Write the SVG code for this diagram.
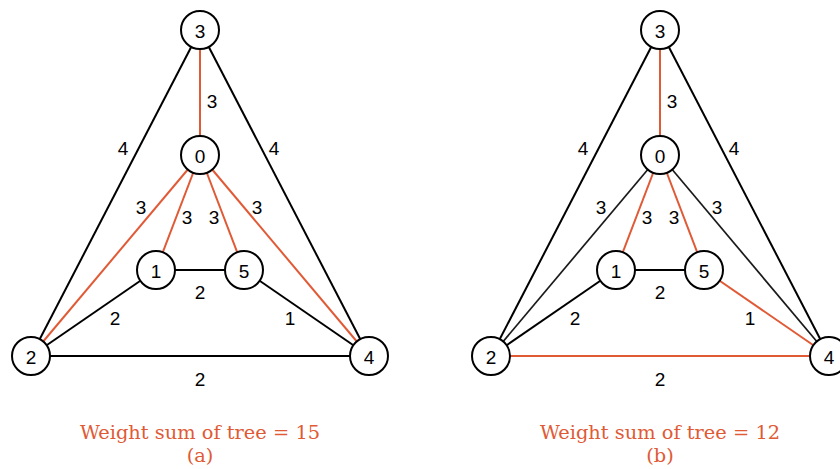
<svg xmlns="http://www.w3.org/2000/svg" width="840" height="469" viewBox="0 0 840 469">
<style>
.e{stroke:#000;stroke-width:2;fill:none}
.t{stroke:#E05A36;stroke-width:2;fill:none}
.g{stroke:#1a1a1a;stroke-width:1.7;fill:none}
.n circle{fill:#fff;stroke:#000;stroke-width:2}
text{font-family:"Liberation Sans",Arial,sans-serif;font-size:19px;fill:#000;text-anchor:middle;dominant-baseline:central}
.cap{font-family:"DejaVu Serif","Liberation Serif",serif;font-size:19.4px;fill:#E05A36;dominant-baseline:alphabetic}
</style>
<rect width="840" height="469" fill="#fff"/>
<g id="connectors">
<line class="e" x1="200" y1="30" x2="31" y2="356"/>
<line class="e" x1="200" y1="30" x2="369" y2="356"/>
<line class="t" x1="200" y1="30" x2="200" y2="155"/>
<line class="t" x1="200" y1="155" x2="31" y2="356"/>
<line class="t" x1="200" y1="155" x2="156" y2="270"/>
<line class="t" x1="200" y1="155" x2="244" y2="270"/>
<line class="t" x1="200" y1="155" x2="369" y2="356"/>
<line class="e" x1="156" y1="270" x2="244" y2="270"/>
<line class="e" x1="156" y1="270" x2="31" y2="356"/>
<line class="e" x1="244" y1="270" x2="369" y2="356"/>
<line class="e" x1="31" y1="356" x2="369" y2="356"/>
<line class="e" x1="660" y1="30" x2="491" y2="356"/>
<line class="e" x1="660" y1="30" x2="829" y2="356"/>
<line class="t" x1="660" y1="30" x2="660" y2="155"/>
<line class="g" x1="660" y1="155" x2="491" y2="356"/>
<line class="t" x1="660" y1="155" x2="616" y2="270"/>
<line class="t" x1="660" y1="155" x2="704" y2="270"/>
<line class="g" x1="660" y1="155" x2="829" y2="356"/>
<line class="e" x1="616" y1="270" x2="704" y2="270"/>
<line class="e" x1="616" y1="270" x2="491" y2="356"/>
<line class="t" x1="704" y1="270" x2="829" y2="356"/>
<line class="t" x1="491" y1="356" x2="829" y2="356"/>
</g>
<g id="edge-labels">
<text x="212" y="101">3</text>
<text x="123" y="148">4</text>
<text x="274" y="148">4</text>
<text x="141" y="207">3</text>
<text x="187" y="217">3</text>
<text x="214" y="217">3</text>
<text x="257" y="207">3</text>
<text x="200" y="292">2</text>
<text x="115" y="318">2</text>
<text x="290" y="318">1</text>
<text x="200" y="379">2</text>
<text x="672" y="101">3</text>
<text x="583" y="148">4</text>
<text x="734" y="148">4</text>
<text x="601" y="207">3</text>
<text x="647" y="217">3</text>
<text x="674" y="217">3</text>
<text x="717" y="207">3</text>
<text x="660" y="292">2</text>
<text x="575" y="318">2</text>
<text x="750" y="318">1</text>
<text x="660" y="379">2</text>
</g>
<g id="a-node3" class="n"><circle cx="200" cy="30" r="19"/><text x="200" y="31">3</text></g>
<g id="a-node0" class="n"><circle cx="200" cy="155" r="19"/><text x="200" y="156">0</text></g>
<g id="a-node1" class="n"><circle cx="156" cy="270" r="19"/><text x="156" y="271">1</text></g>
<g id="a-node5" class="n"><circle cx="244" cy="270" r="19"/><text x="244" y="271">5</text></g>
<g id="a-node2" class="n"><circle cx="31" cy="356" r="19"/><text x="31" y="357">2</text></g>
<g id="a-node4" class="n"><circle cx="369" cy="356" r="19"/><text x="369" y="357">4</text></g>
<g id="b-node3" class="n"><circle cx="660" cy="30" r="19"/><text x="660" y="31">3</text></g>
<g id="b-node0" class="n"><circle cx="660" cy="155" r="19"/><text x="660" y="156">0</text></g>
<g id="b-node1" class="n"><circle cx="616" cy="270" r="19"/><text x="616" y="271">1</text></g>
<g id="b-node5" class="n"><circle cx="704" cy="270" r="19"/><text x="704" y="271">5</text></g>
<g id="b-node2" class="n"><circle cx="491" cy="356" r="19"/><text x="491" y="357">2</text></g>
<g id="b-node4" class="n"><circle cx="829" cy="356" r="19"/><text x="829" y="357">4</text></g>
<g id="captions">
<text class="cap" x="200" y="439">Weight sum of tree = 15</text>
<text class="cap" x="200" y="462">(a)</text>
<text class="cap" x="660" y="439">Weight sum of tree = 12</text>
<text class="cap" x="660" y="462">(b)</text>
</g>
</svg>
